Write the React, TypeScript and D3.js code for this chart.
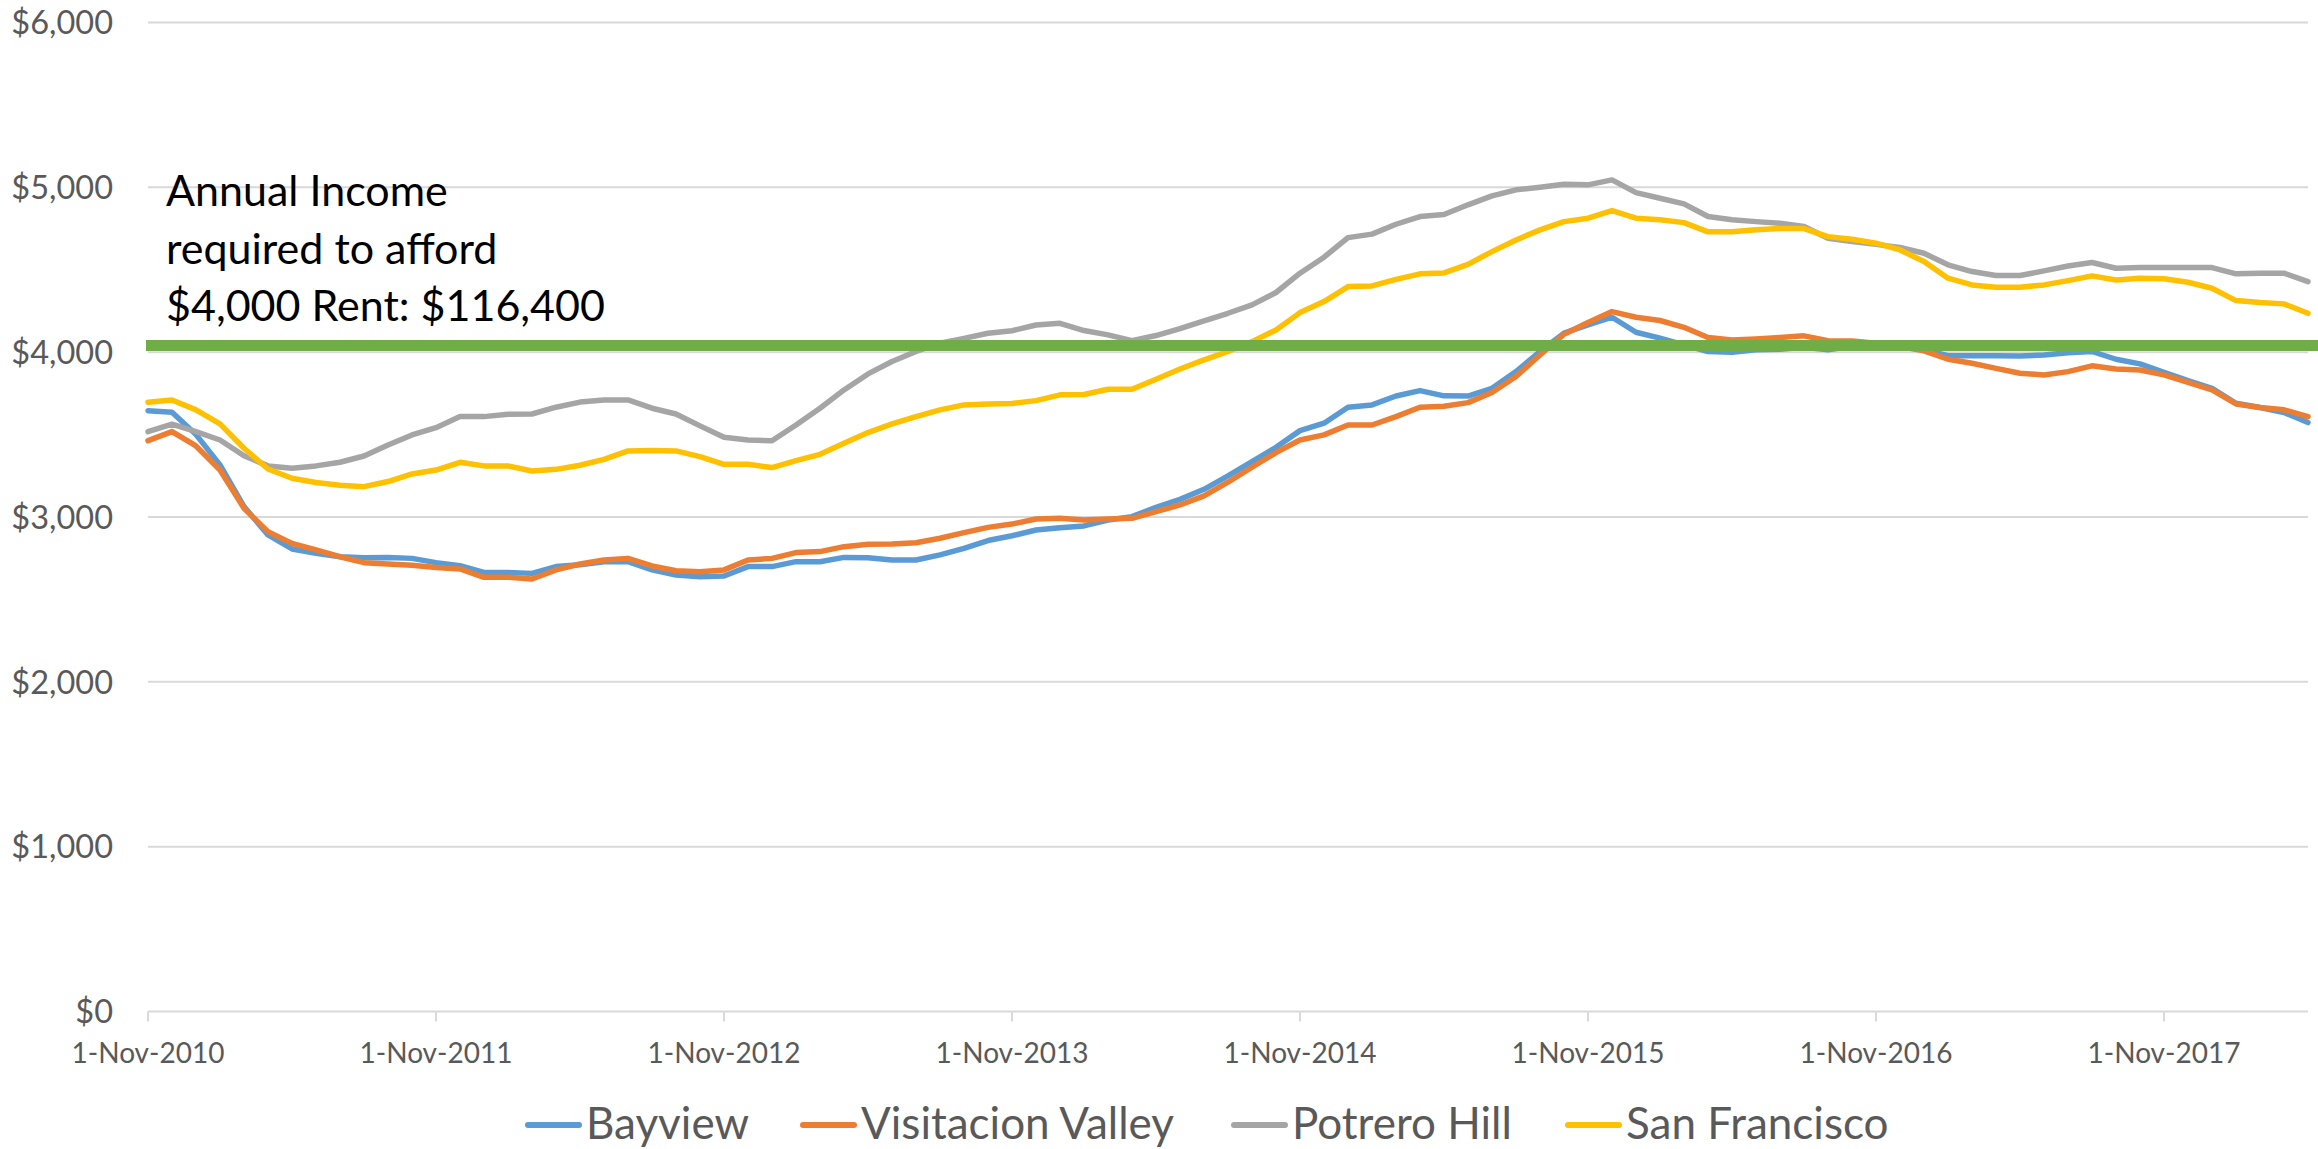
import * as d3 from 'd3';

// Monthly median rent, 1-Nov-2010 .. 1-May-2018
const months = d3.timeMonth.range(new Date(2010, 10, 1), new Date(2018, 5, 1));

const bayview = [
  3645, 3635, 3500, 3316, 3063, 2891, 2806, 2780, 2759, 2753, 2755, 2749, 2723, 2705, 2664, 2664,
  2658, 2699, 2710, 2729, 2729, 2679, 2648, 2638, 2642, 2699, 2699, 2729, 2729, 2755, 2753, 2739,
  2739, 2770, 2810, 2857, 2886, 2921, 2935, 2946, 2982, 3002, 3059, 3107, 3168, 3249, 3336, 3423,
  3524, 3569, 3666, 3680, 3734, 3767, 3735, 3734, 3781, 3882, 4004, 4115, 4165, 4212, 4121, 4085,
  4044, 4004, 4000, 4014, 4018, 4030, 4014, 4035, 4044, 4034, 4014, 3979, 3979, 3979, 3977, 3983,
  3997, 4004, 3957, 3929, 3878, 3827, 3781, 3690, 3664, 3634, 3573,
];

const visitacionValley = [
  3463, 3518, 3431, 3285, 3053, 2911, 2840, 2800, 2759, 2723, 2715, 2707, 2693, 2685, 2634, 2634,
  2624, 2679, 2715, 2739, 2749, 2703, 2674, 2668, 2679, 2739, 2749, 2784, 2790, 2820, 2834, 2836,
  2844, 2871, 2905, 2937, 2957, 2988, 2992, 2982, 2988, 2992, 3033, 3073, 3128, 3211, 3302, 3391,
  3467, 3498, 3558, 3558, 3609, 3666, 3672, 3694, 3755, 3852, 3983, 4109, 4180, 4246, 4212, 4192,
  4151, 4089, 4074, 4080, 4089, 4099, 4070, 4068, 4054, 4034, 4008, 3957, 3933, 3902, 3872, 3862,
  3882, 3917, 3898, 3892, 3862, 3817, 3771, 3686, 3664, 3650, 3609,
];

const potreroHill = [
  3518, 3563, 3518, 3467, 3372, 3310, 3296, 3310, 3332, 3370, 3437, 3498, 3542, 3609, 3609, 3623,
  3625, 3666, 3697, 3710, 3710, 3660, 3625, 3553, 3484, 3467, 3463, 3558, 3660, 3771, 3868, 3943,
  4004, 4054, 4084, 4115, 4130, 4165, 4175, 4131, 4105, 4070, 4101, 4143, 4190, 4236, 4287, 4362,
  4479, 4576, 4695, 4716, 4776, 4823, 4835, 4894, 4948, 4985, 5001, 5019, 5015, 5045, 4968, 4934,
  4900, 4823, 4803, 4792, 4782, 4762, 4691, 4671, 4654, 4635, 4600, 4530, 4489, 4465, 4465, 4493,
  4523, 4544, 4509, 4513, 4513, 4513, 4513, 4475, 4479, 4479, 4428,
];

const sanFrancisco = [
  3696, 3710, 3650, 3565, 3417, 3291, 3235, 3209, 3192, 3184, 3215, 3261, 3285, 3332, 3310, 3310,
  3279, 3289, 3314, 3350, 3401, 3403, 3401, 3366, 3320, 3320, 3300, 3342, 3380, 3447, 3512, 3565,
  3609, 3650, 3680, 3686, 3688, 3706, 3741, 3743, 3775, 3775, 3836, 3898, 3953, 4004, 4064, 4135,
  4240, 4307, 4398, 4402, 4442, 4475, 4481, 4533, 4610, 4681, 4742, 4792, 4813, 4859, 4813, 4803,
  4786, 4730, 4730, 4742, 4750, 4750, 4701, 4685, 4661, 4620, 4550, 4449, 4408, 4394, 4394, 4408,
  4434, 4463, 4438, 4449, 4445, 4424, 4388, 4313, 4301, 4293, 4236,
];

const seriesNames = ['Bayview', 'Visitacion Valley', 'Potrero Hill', 'San Francisco'];
const seriesColors = ['#5B9BD5', '#ED7D31', '#A5A5A5', '#FFC000'];
const yTicks = [0, 1000, 2000, 3000, 4000, 5000, 6000];
const thresholdRent = 4040;
const annotationLines = ['Annual Income', 'required to afford', '$4,000 Rent: $116,400'];

const W = 2318;
const H = 1149;
const FONT = "Lato, 'Liberation Sans', sans-serif";

export default function App() {
  const data = [bayview, visitacionValley, potreroHill, sanFrancisco];

  const x = d3.scaleLinear().domain([0, months.length - 1]).range([148, 2308]);
  const y = d3.scaleLinear().domain([0, 6000]).range([1011.5, 22.5]);

  const line = d3.line<number>()
    .x((_, i) => x(i))
    .y(d => y(d));

  const fmtMoney = (v: number) => '$' + d3.format(',')(v);
  const fmtDate = d3.timeFormat('%-d-%b-%Y');
  const xTickIdx = months.map((_, i) => i).filter(i => i % 12 === 0);

  // legend layout (swatch start x for each entry)
  const legendX = [525, 800, 1231, 1565];

  return (
    <>
      <style>{`body{margin:0}`}</style>
      <svg width={W} height={H} style={{ display: 'block', background: '#fff' }}>
        {/* gridlines */}
        {yTicks.map(t => (
          <line key={t} x1={148} x2={2308} y1={y(t)} y2={y(t)} stroke="#D9D9D9" strokeWidth={2} />
        ))}
        {/* x tick marks */}
        {xTickIdx.map(i => (
          <line key={i} x1={x(i)} x2={x(i)} y1={y(0)} y2={y(0) + 10} stroke="#D9D9D9" strokeWidth={2} />
        ))}
        {/* y labels */}
        {yTicks.map(t => (
          <text key={t} x={113} y={y(t)} dy="0.36em" textAnchor="end" fontFamily={FONT}
            fontSize={32.5} fill="#595959">{fmtMoney(t)}</text>
        ))}
        {/* x labels */}
        {xTickIdx.map(i => (
          <text key={i} x={x(i)} y={1063} textAnchor="middle" fontFamily={FONT}
            fontSize={28} fill="#595959">{fmtDate(months[i])}</text>
        ))}
        {/* series */}
        {data.map((s, k) => (
          <path key={k} d={line(s) || ''} fill="none" stroke={seriesColors[k]} strokeWidth={5.5}
            strokeLinejoin="round" strokeLinecap="round" />
        ))}
        {/* threshold bar */}
        <line x1={146} x2={W} y1={y(thresholdRent)} y2={y(thresholdRent)} stroke="#70AD47" strokeWidth={11} />
        {/* annotation */}
        {annotationLines.map((t, i) => (
          <text key={i} x={166} y={206 + i * 57.5} fontFamily={FONT} fontSize={43} fill="#000">{t}</text>
        ))}
        {/* legend */}
        {seriesNames.map((n, k) => (
          <g key={n}>
            <line x1={legendX[k] + 3} x2={legendX[k] + 54} y1={1125} y2={1125} stroke={seriesColors[k]}
              strokeWidth={6} strokeLinecap="round" />
            <text x={legendX[k] + 61} y={1139} fontFamily={FONT} fontSize={44} fill="#595959">{n}</text>
          </g>
        ))}
      </svg>
    </>
  );
}
